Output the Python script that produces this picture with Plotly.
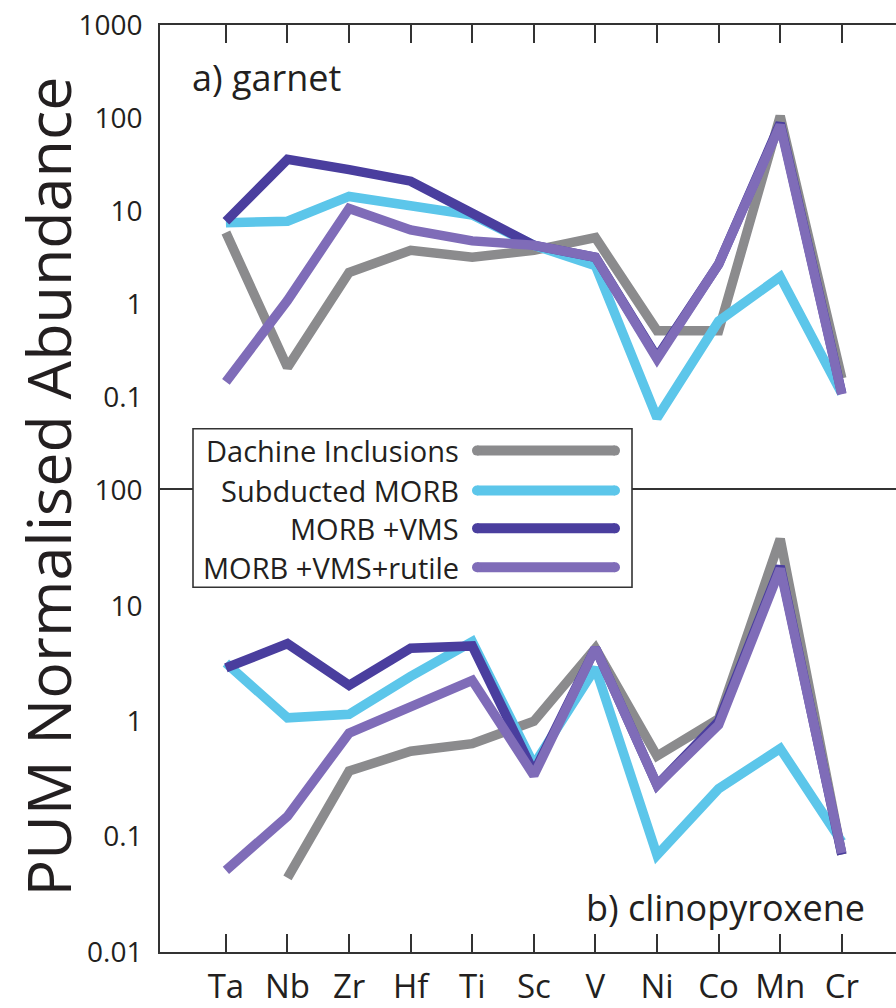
import plotly.graph_objects as go
from plotly.subplots import make_subplots

# Elements along the x axis
elements = ["Ta", "Nb", "Zr", "Hf", "Ti", "Sc", "V", "Ni", "Co", "Mn", "Cr"]

series_names = ["Dachine Inclusions", "Subducted MORB", "MORB +VMS", "MORB +VMS+rutile"]
series_colors = ["#8b8b8d", "#5cc6ea", "#4a3e9e", "#7f6cb8"]

# a) garnet, PUM-normalised
garnet_dachine = [5.9, 0.21, 2.2, 3.8, 3.2, 3.8, 5.2, 0.52, 0.52, 105, 0.16]
garnet_morb = [7.5, 7.8, 14.4, 11.3, 9.1, 4.3, 2.6, 0.06, 0.66, 1.97, 0.11]
garnet_morb_vms = [7.8, 36, 28, 21, 9.5, 4.3, 3.2, 0.27, 2.7, 88, 0.11]
garnet_morb_vms_rt = [0.147, 1.1, 10.7, 6.3, 4.8, 4.3, 3.2, 0.26, 2.7, 84, 0.108]

# b) clinopyroxene, PUM-normalised
cpx_dachine = [None, 0.044, 0.37, 0.55, 0.64, 1.0, 4.3, 0.5, 1.05, 38, 0.07]
cpx_morb = [3.2, 1.07, 1.15, 2.45, 4.9, 0.42, 2.9, 0.069, 0.26, 0.58, 0.09]
cpx_morb_vms = [2.9, 4.7, 2.05, 4.3, 4.5, 0.36, 4.3, 0.28, 1.0, 22, 0.07]
cpx_morb_vms_rt = [0.051, 0.15, 0.79, 1.37, 2.26, 0.34, 4.3, 0.28, 0.93, 21, 0.072]

garnet_series = [garnet_dachine, garnet_morb, garnet_morb_vms, garnet_morb_vms_rt]
cpx_series = [cpx_dachine, cpx_morb, cpx_morb_vms, cpx_morb_vms_rt]

top_ticks = [0.1, 1, 10, 100, 1000]
bottom_ticks = [0.01, 0.1, 1, 10, 100]

FONT = "Open Sans"
INK = "#231f20"
LINE_W = 9.5

W, H = 896, 1008
L, R, T, B = 160, 0, 25, 53
plot_w = W - L - R
plot_h = H - T - B
top_h = 467
split = 1 - top_h / plot_h

fig = make_subplots(rows=2, cols=1, shared_xaxes=True, vertical_spacing=0,
                    row_heights=[top_h, plot_h - top_h])

for name, color, vals in zip(series_names, series_colors, garnet_series):
    fig.add_trace(go.Scatter(x=elements, y=vals, mode="lines", name=name,
                             line=dict(color=color, width=LINE_W),
                             showlegend=False, connectgaps=False), row=1, col=1)
for name, color, vals in zip(series_names, series_colors, cpx_series):
    fig.add_trace(go.Scatter(x=elements, y=vals, mode="lines", name=name,
                             line=dict(color=color, width=LINE_W),
                             showlegend=False, connectgaps=False), row=2, col=1)

xrange = [-1.07, 10.88]
fig.update_xaxes(range=xrange, showgrid=False, zeroline=False,
                 showline=True, linecolor="#333333", linewidth=1.8,
                 ticks="inside", ticklen=18, tickwidth=1.5, tickcolor="#333333")
fig.update_xaxes(side="top", showticklabels=False, row=1, col=1)
fig.update_xaxes(mirror=True, showticklabels=True, row=2, col=1,
                 tickfont=dict(family=FONT, size=33, color=INK),
                 ticklabelstandoff=4)

fig.update_yaxes(type="log", showgrid=False, zeroline=False, showline=True,
                 linecolor="#333333", linewidth=1.8, ticks="",
                 tickfont=dict(family=FONT, size=28, color=INK),
                 ticklabelstandoff=10)
fig.update_yaxes(range=[-2, 3], tickvals=top_ticks,
                 ticktext=[str(v) for v in top_ticks], row=1, col=1)
fig.update_yaxes(range=[-2, 2], tickvals=bottom_ticks,
                 ticktext=[str(v) for v in bottom_ticks], row=2, col=1)
fig.layout.yaxis.domain = [split, 1]
fig.layout.yaxis2.domain = [0, split]


def px_x(px):
    return (px - L) / plot_w


def px_y(py):
    return (H - B - py) / plot_h


shapes = []
annotations = []

# legend box
shapes.append(dict(type="rect", xref="paper", yref="paper",
                   x0=px_x(193), x1=px_x(632), y0=px_y(589), y1=px_y(430),
                   fillcolor="white", line=dict(color="#333333", width=1.6),
                   layer="above"))
row_y = [452, 492, 530, 569]
for name, color, ry in zip(series_names, series_colors, row_y):
    annotations.append(dict(text=name, xref="paper", yref="paper",
                            x=px_x(461), y=px_y(ry), xanchor="right",
                            yanchor="middle", showarrow=False,
                            font=dict(family=FONT, size=29, color=INK)))
    shapes.append(dict(type="line", xref="paper", yref="paper",
                       x0=px_x(477), x1=px_x(615), y0=px_y(ry), y1=px_y(ry),
                       line=dict(color=color, width=10), layer="above"))
    for cx in (477, 615):
        shapes.append(dict(type="circle", xref="paper", yref="paper",
                           xsizemode="pixel", ysizemode="pixel",
                           xanchor=px_x(cx), yanchor=px_y(ry),
                           x0=-5, x1=5, y0=-5, y1=5,
                           fillcolor=color, line=dict(width=0),
                           layer="above"))

annotations.append(dict(text="a) garnet", xref="paper", yref="paper",
                        x=px_x(190), y=px_y(78), xanchor="left",
                        yanchor="middle", showarrow=False,
                        font=dict(family=FONT, size=36, color=INK)))
annotations.append(dict(text="b) clinopyroxene", xref="paper", yref="paper",
                        x=px_x(584), y=px_y(910), xanchor="left",
                        yanchor="middle", showarrow=False,
                        font=dict(family=FONT, size=36, color=INK)))
annotations.append(dict(text="PUM Normalised Abundance", xref="paper",
                        yref="paper", x=px_x(48), y=px_y(488),
                        xanchor="center", yanchor="middle", textangle=-90,
                        showarrow=False,
                        font=dict(family=FONT, size=61, color=INK)))

fig.update_layout(width=W, height=H,
                  margin=dict(l=L, r=R, t=T, b=B, pad=0),
                  paper_bgcolor="white", plot_bgcolor="white",
                  shapes=shapes, annotations=annotations, showlegend=False)

fig.write_html("out.html")
